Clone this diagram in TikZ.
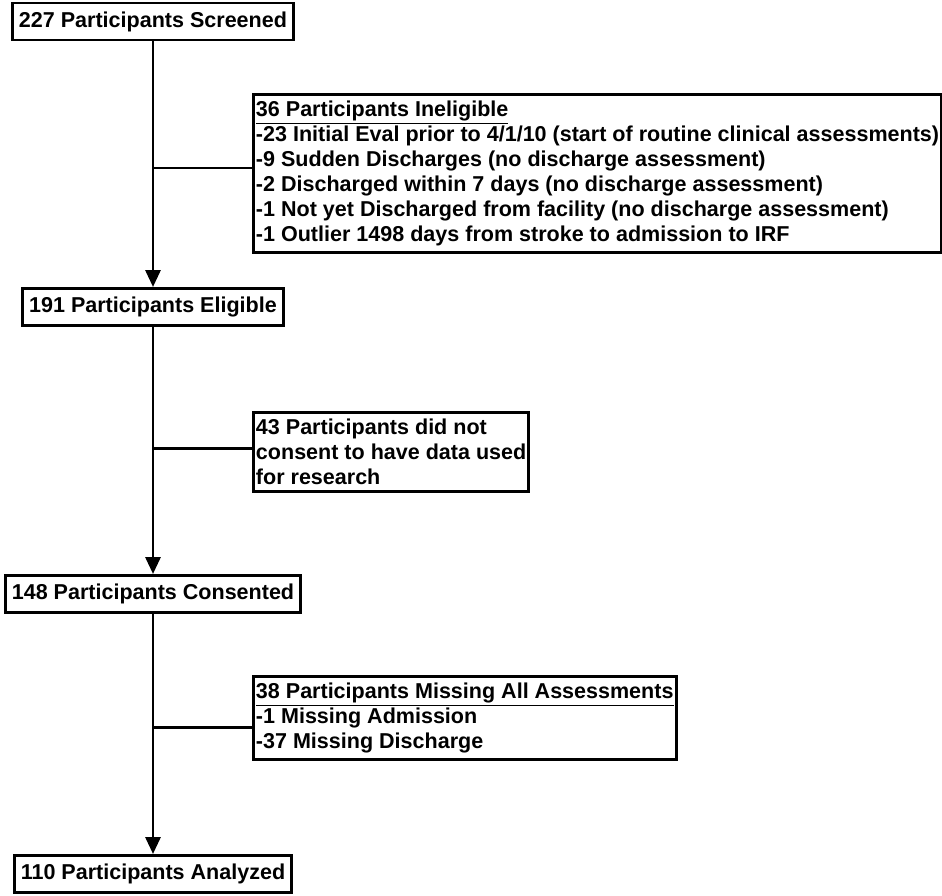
\documentclass[tikz,border=0pt]{standalone}
\usepackage{fontspec}
\setmainfont{Liberation Sans}
\usetikzlibrary{arrows.meta}

\begin{document}
\begin{tikzpicture}[>={Triangle[length=0.34cm,width=0.3cm]}, line width=1.7pt,
    font=\bfseries\fontsize{12.25}{14.2}\selectfont,
    mainbox/.style={draw, inner xsep=0.13cm, inner ysep=0.1cm, minimum height=0.74cm},
    sidebox/.style={draw, anchor=north west, align=left, inner xsep=0.05cm, inner ysep=0.13cm}]

    \useasboundingbox (0,0) rectangle (18.84,-17.92);

    \node[mainbox] (S) at (3.06,-0.43) {227 Participants Screened};
    \node[mainbox] (E) at (3.06,-6.14) {191 Participants Eligible};
    \node[mainbox] (C) at (3.06,-11.88) {148 Participants Consented};
    \node[mainbox] (A) at (3.06,-17.48) {110 Participants Analyzed};

    \node[sidebox] (I) at (5.04,-1.86) {\underline{36 Participants Ineligible}\\
        -23 Initial Eval prior to 4/1/10 (start of routine clinical assessments)\\
        -9 Sudden Discharges (no discharge assessment)\\
        -2 Discharged within 7 days (no discharge assessment)\\
        -1 Not yet Discharged from facility (no discharge assessment)\\
        -1 Outlier 1498 days from stroke to admission to IRF};
    \node[sidebox] (N) at (5.04,-8.22) {43 Participants did not\\
        consent to have data used\\
        for research};
    \node[sidebox] (M) at (5.04,-13.5) {\underline{38 Participants Missing All Assessments}\\
        -1 Missing Admission\\
        -37 Missing Discharge};

    \draw[->] (S) -- (E);
    \draw[->] (E) -- (C);
    \draw[->] (C) -- (A);

    \coordinate (J1) at (3.06,-3.36);
    \coordinate (J2) at (3.06,-8.96);
    \coordinate (J3) at (3.06,-14.54);
    \draw[-] (J1) -- (J1 -| I.west);
    \draw[-] (J2) -- (J2 -| N.west);
    \draw[-] (J3) -- (J3 -| M.west);

\end{tikzpicture}
\end{document}
